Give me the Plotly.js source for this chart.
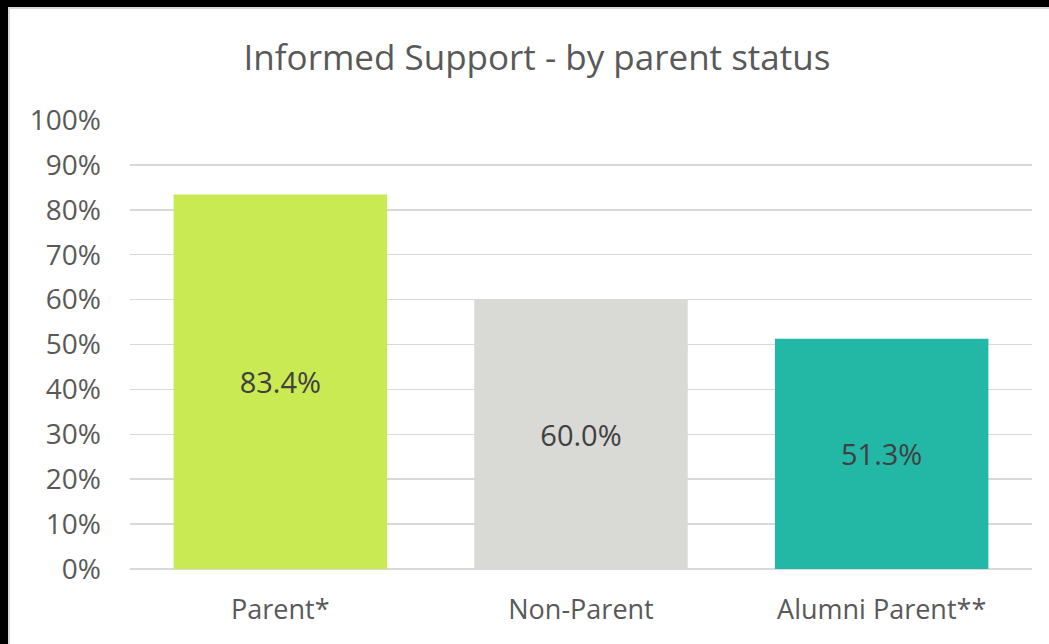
<!DOCTYPE html>
<html><head><meta charset="utf-8">
<script src="https://cdn.plot.ly/plotly-3.0.1.min.js"></script>
<style>
html,body{margin:0;padding:0;background:#000;width:1049px;height:644px;overflow:hidden}
#wrap{position:absolute;left:8px;top:7px;width:1041px;height:637px;background:#fff;box-sizing:border-box;border-top:2px solid #d9d9d9;border-left:2px solid #d9d9d9}
#chart{position:absolute;left:0;top:0;width:1039px;height:635px}
</style></head>
<body><div id="wrap"><div id="chart"></div></div>
<script>
const categories = ["Parent*", "Non-Parent", "Alumni Parent**"];
const values = [83.4, 60.0, 51.3];
const colors = ["#C9EA52", "#D9D9D6", "#23B8A5"];
const tickVals = [0,10,20,30,40,50,60,70,80,90,100];
const tickText = tickVals.map(v => v + "%");

const FONT = "'Open Sans', sans-serif";
const trace = {
  type: "bar",
  x: categories,
  y: values,
  marker: {color: colors},
  text: values.map(v => v.toFixed(1) + "%"),
  textposition: "inside",
  insidetextanchor: "middle",
  textfont: {family: FONT, size: 29, color: "#404040"},
  hoverinfo: "none"
};
const layout = {
  width: 1039, height: 635,
  margin: {l: 120, r: 17, t: 111, b: 75},
  paper_bgcolor: "#fff", plot_bgcolor: "#fff",
  bargap: 0.29,
  showlegend: false,
  title: {text: "Informed Support - by parent status", x: (535-8)/1039, xanchor: "center", xref: "container",
          y: 1 - 49/635, yref: "container", yanchor: "middle",
          font: {family: FONT, size: 35, color: "#595959"}},
  xaxis: {type: "category", showgrid: false, zeroline: false, showline: false, ticks: "",
          ticklabelstandoff: 22,
          tickfont: {family: FONT, size: 27, color: "#595959"}},
  yaxis: {range: [0, 100], tickvals: tickVals, ticktext: tickText, showgrid: true,
          gridcolor: "#d9d9d9", gridwidth: 1.5, zeroline: true, zerolinecolor: "#d9d9d9", zerolinewidth: 1.5,
          showline: false, ticks: "", ticklabelstandoff: 28,
          tickfont: {family: FONT, size: 28, color: "#595959"}}
};
Plotly.newPlot("chart", [trace], layout, {displayModeBar: false, staticPlot: true});
</script></body></html>
